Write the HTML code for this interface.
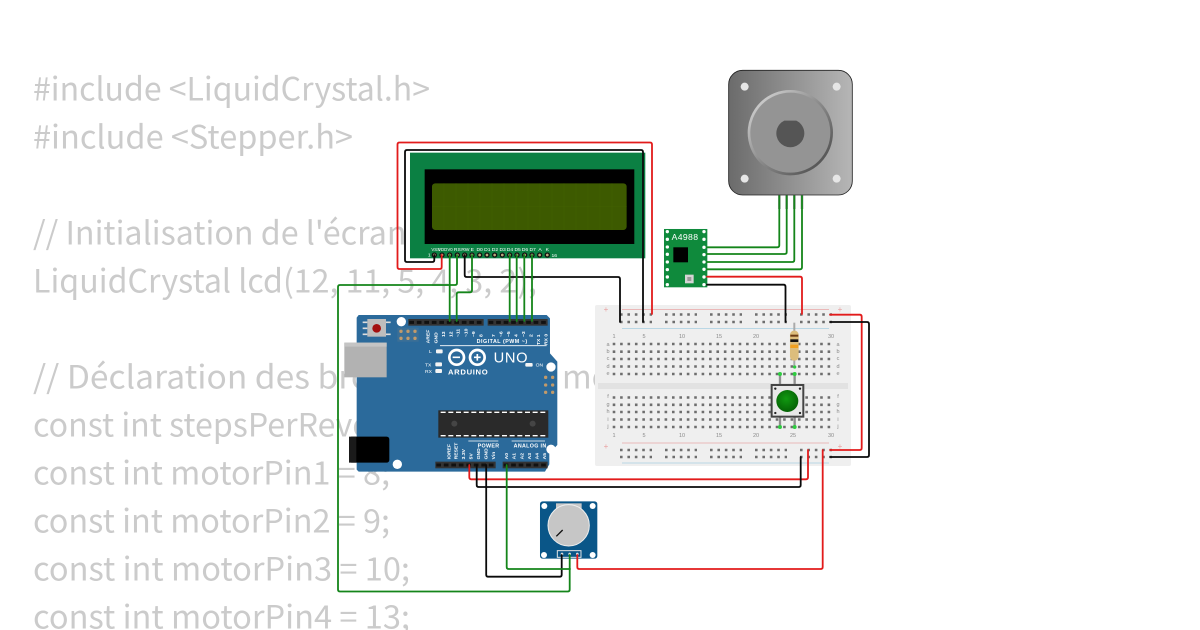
<!DOCTYPE html>
<html><head><meta charset="utf-8"><style>
html,body{margin:0;padding:0;background:#fff}
svg{display:block}
.c{font:32px "Noto Sans CJK JP","Liberation Sans",sans-serif;fill:#cbcbcb}
.w{fill:none;stroke-width:1.8;stroke-linejoin:round;stroke-linecap:round}
.r{stroke:#e21b1b}.k{stroke:#0a0a0a}.g{stroke:#14851a}
.t{font-family:"Liberation Sans",sans-serif;fill:#fff}
.bb{font:5.5px "Liberation Sans",sans-serif;fill:#8a8a8a}
.h{stroke:#6e6e6e;stroke-width:2.6;stroke-dasharray:2.6 4.81;fill:none}
</style></head><body>
<svg width="1200" height="630" viewBox="0 0 1200 630" xmlns="http://www.w3.org/2000/svg">
<defs>
<linearGradient id="mg" x1="0" x2="1" y1="0" y2="0"><stop offset="0" stop-color="#6b6b6b"/><stop offset="1" stop-color="#b6b6b6"/></linearGradient>
<linearGradient id="rg" x1="0" y1="0" x2="1" y2="1"><stop offset="0" stop-color="#e0e0e0"/><stop offset=".5" stop-color="#8a8a8a"/><stop offset="1" stop-color="#444"/></linearGradient>
<radialGradient id="bt" cx=".45" cy=".4" r=".6"><stop offset="0" stop-color="#119a11"/><stop offset="1" stop-color="#056205"/></radialGradient>
</defs>
<rect width="1200" height="630" fill="#fff"/>

<!-- code text -->
<text class="c" x="33" y="100.300" textLength="397" lengthAdjust="spacingAndGlyphs">#include &lt;LiquidCrystal.h&gt;</text>
<text class="c" x="33" y="148.300" textLength="320" lengthAdjust="spacingAndGlyphs">#include &lt;Stepper.h&gt;</text>
<text class="c" x="33" y="244.300" textLength="440" lengthAdjust="spacingAndGlyphs">// Initialisation de l'écran LCD</text>
<text class="c" x="33" y="292.300" textLength="504" lengthAdjust="spacingAndGlyphs">LiquidCrystal lcd(12, 11, 5, 4, 3, 2);</text>
<text class="c" x="33" y="388.300" textLength="410" lengthAdjust="spacingAndGlyphs">// Déclaration des broches</text>
<text class="c" x="562" y="388.300">moteur</text>
<text class="c" x="33" y="436.300" textLength="522" lengthAdjust="spacingAndGlyphs">const int stepsPerRevolution = 200;</text>
<text class="c" x="33" y="484.300" textLength="357" lengthAdjust="spacingAndGlyphs">const int motorPin1 = 8;</text>
<text class="c" x="33" y="532.300" textLength="357" lengthAdjust="spacingAndGlyphs">const int motorPin2 = 9;</text>
<text class="c" x="33" y="580.300" textLength="377" lengthAdjust="spacingAndGlyphs">const int motorPin3 = 10;</text>
<text class="c" x="33" y="628.300" textLength="377" lengthAdjust="spacingAndGlyphs">const int motorPin4 = 13;</text>

<!-- breadboard -->
<rect x="595" y="305" width="256" height="161" rx="2" fill="#efefef"/>
<rect x="598" y="383" width="250" height="6" fill="#e2e2e2"/>
<path d="M622 309.500H829M622 443H829" stroke="#e9a6a6" stroke-width=".8"/>
<path d="M622 328.500H829M622 463H829" stroke="#a9cfe2" stroke-width=".8"/>
<g class="h">
<path d="M612.700 344H831M612.700 351.700H831M612.700 359H831M612.700 366.500H831M612.700 374H831M612.700 397.500H831M612.700 404.800H831M612.700 412H831M612.700 419.500H831M612.700 427H831"/>
<path d="M620 314.500h32M665 314.500h32M710 314.500h32M755 314.500h32M800 314.500h32M620 322h32M665 322h32M710 322h32M755 322h32M800 322h32"/>
<path d="M620 450h32M665 450h32M710 450h32M755 450h32M800 450h32M620 457h32M665 457h32M710 457h32M755 457h32M800 457h32"/>
</g>
<g class="bb" text-anchor="middle">
<text x="614" y="338">1</text><text x="644" y="338">5</text><text x="682" y="338">10</text><text x="719" y="338">15</text><text x="756" y="338">20</text><text x="831" y="338">30</text>
<text x="614" y="437">1</text><text x="644" y="437">5</text><text x="682" y="437">10</text><text x="719" y="437">15</text><text x="756" y="437">20</text><text x="793" y="437">25</text><text x="831" y="437">30</text>
<text x="608" y="346">a</text><text x="608" y="353">b</text><text x="608" y="360">c</text><text x="608" y="368">d</text><text x="608" y="375">e</text><text x="608" y="398">f</text><text x="608" y="406">g</text><text x="608" y="413">h</text><text x="608" y="421">i</text><text x="608" y="428">j</text>
<text x="838" y="346">a</text><text x="838" y="353">b</text><text x="838" y="360">c</text><text x="838" y="368">d</text><text x="838" y="375">e</text><text x="838" y="398">f</text><text x="838" y="406">g</text><text x="838" y="413">h</text><text x="838" y="421">i</text><text x="838" y="428">j</text>
</g>
<g font-family="Liberation Sans" font-size="8" fill="#e9a0a0" text-anchor="middle"><text x="606" y="312">+</text><text x="840" y="312">+</text><text x="606" y="449">+</text><text x="840" y="449">+</text></g>

<!-- resistor + button in zoom coordinates -->
<g transform="translate(590 300) scale(.3333)">
<path d="M613 68V200" stroke="#aaa" stroke-width="6"/>
<rect x="600" y="92" width="26" height="90" rx="12" fill="#dcbd7c"/>
<rect x="601" y="104" width="24" height="6" fill="#6b3a12"/><rect x="601" y="118" width="24" height="8" fill="#111"/><rect x="601" y="134" width="24" height="10" fill="#f0a020"/>
<path d="M570 225V255M614 225V255M570 350V380M614 350V380" stroke="#8f8f8f" stroke-width="7"/>
<g fill="#2ecc40"><circle cx="614" cy="201" r="5"/><circle cx="570" cy="222" r="6"/><circle cx="614" cy="222" r="6"/><circle cx="570" cy="381" r="6"/><circle cx="614" cy="381" r="6"/></g>
<rect x="545" y="255" width="95" height="95" fill="#e8e8e8" stroke="#444" stroke-width="6"/>
<g fill="#222"><circle cx="556" cy="266" r="3.500"/><circle cx="630" cy="266" r="3.500"/><circle cx="556" cy="339" r="3.500"/><circle cx="630" cy="339" r="3.500"/></g>
<circle cx="592" cy="303" r="33" fill="url(#bt)"/>
</g>

<!-- LCD -->
<g transform="translate(340 130) scale(.3333)">
<rect x="210" y="68" width="706" height="317" fill="#0b8043"/>
<rect x="254" y="118" width="629" height="224" fill="#000"/>
<rect x="276" y="160" width="584" height="140" rx="10" fill="#3d5a00"/>
<path d="M312 160V300M348 160V300M384 160V300M420 160V300M456 160V300M492 160V300M528 160V300M564 160V300M600 160V300M636 160V300M672 160V300M708 160V300M744 160V300M780 160V300M816 160V300M276 230H860" stroke="#415f00" stroke-width="2"/>
<g fill="#b9a97a" stroke="#111" stroke-width="4">
<circle cx="283" cy="375" r="6"/><circle cx="306" cy="375" r="6"/><circle cx="329" cy="375" r="6"/><circle cx="352" cy="375" r="6"/><circle cx="374" cy="375" r="6"/><circle cx="396" cy="375" r="6"/><circle cx="419" cy="375" r="6"/><circle cx="441" cy="375" r="6"/><circle cx="464" cy="375" r="6"/><circle cx="487" cy="375" r="6"/><circle cx="509" cy="375" r="6"/><circle cx="531" cy="375" r="6"/><circle cx="554" cy="375" r="6"/><circle cx="576" cy="375" r="6"/><circle cx="599" cy="375" r="6"/><circle cx="622" cy="375" r="6"/>
</g>
<g class="t" font-size="15" text-anchor="middle">
<text x="287" y="363" font-size="13">VSS</text><text x="308" y="363" font-size="13">VDD</text><text x="330" y="363" font-size="13">V0</text><text x="352" y="363">RS</text><text x="376" y="363">RW</text><text x="397" y="363">E</text><text x="419" y="363">D0</text><text x="442" y="363">D1</text><text x="465" y="363">D2</text><text x="488" y="363">D3</text><text x="510" y="363">D4</text><text x="533" y="363">D5</text><text x="555" y="363">D6</text><text x="578" y="363">D7</text><text x="600" y="363">A</text><text x="622" y="363">K</text>
<text x="268" y="379">1</text><text x="643" y="381">16</text>
</g>
</g>

<!-- Arduino -->
<g transform="translate(340 305) scale(.3333)">
<path d="M50 38L56 30H620L630 40V145L652 170V420L628 445V478L615 500H56L50 494Z" fill="#2b6a9b"/>
<rect x="13" y="113" width="127" height="104" fill="#b2b2b2"/>
<path d="M13 113H140V125H13Z" fill="#c4c4c4"/>
<rect x="27" y="395" width="121" height="78" rx="8" fill="#000"/>
<rect x="27" y="395" width="22" height="78" fill="#1a1a1a"/>
<rect x="82" y="42" width="56" height="53" fill="#bdbdbd"/>
<path d="M68 52H82M68 70H82M68 88H82M138 52H152M138 88H152" stroke="#ddd" stroke-width="5"/>
<circle cx="110" cy="70" r="13" fill="#a30f0f"/>
<g fill="#fff"><circle cx="184" cy="50" r="14"/><circle cx="633" cy="186" r="14"/><circle cx="172" cy="478" r="14"/><circle cx="633" cy="433" r="14"/></g>
<rect x="205" y="42" width="226" height="20" fill="#333"/><rect x="443" y="42" width="180" height="20" fill="#333"/>
<rect x="286" y="470" width="181" height="20" fill="#333"/><rect x="488" y="470" width="135" height="20" fill="#333"/>
<path d="M208 52H430M446 52H622M289 480H466M491 480H622" stroke="#111" stroke-width="9" stroke-dasharray="14 8.500"/>
<rect x="172" y="68" width="64" height="42" fill="#3b6f96"/>
<g fill="#c29a6a"><circle cx="183" cy="79" r="5"/><circle cx="204" cy="79" r="5"/><circle cx="225" cy="79" r="5"/><circle cx="183" cy="100" r="5"/><circle cx="204" cy="100" r="5"/><circle cx="225" cy="100" r="5"/></g>
<g fill="#c29a6a"><circle cx="617" cy="217" r="5"/><circle cx="638" cy="217" r="5"/><circle cx="617" cy="240" r="5"/><circle cx="638" cy="240" r="5"/><circle cx="617" cy="262" r="5"/><circle cx="638" cy="262" r="5"/></g>
<rect x="295" y="316" width="330" height="82" fill="#2a2a2a"/>
<path d="M302 322H622M302 392H622" stroke="#fff" stroke-width="4" stroke-dasharray="15 8"/>
<circle cx="343" cy="356" r="9" fill="#454545"/><circle cx="578" cy="356" r="9" fill="#454545"/>
<path d="M300 122H620M385 408H475M515 408H615" stroke="#fff" stroke-width="2.500" fill="none"/>
<g fill="none" stroke="#fff" stroke-width="8"><circle cx="350" cy="157" r="22"/><circle cx="412" cy="157" r="22"/></g>
<path d="M338 157H360M402 157H422M412 147V167" stroke="#fff" stroke-width="5"/>
<text class="t" x="324" y="209" font-size="23" font-weight="bold" letter-spacing="2">ARDUINO</text>
<text class="t" x="461" y="172" font-size="44" letter-spacing="2">UNO</text>
<text class="t" x="410" y="114" font-size="16" font-weight="bold" letter-spacing="1.500">DIGITAL (PWM ~)</text>
<text class="t" x="267" y="144" font-size="15">L</text><text class="t" x="255" y="185" font-size="15">TX</text><text class="t" x="255" y="204" font-size="15">RX</text><text class="t" x="587" y="185" font-size="15">ON</text>
<g fill="#f4f4f4"><rect x="288" y="133" width="20" height="12" rx="3"/><rect x="286" y="172" width="20" height="12" rx="3"/><rect x="286" y="192" width="20" height="12" rx="3"/><rect x="556" y="174" width="22" height="11" rx="3"/></g>
<text class="t" x="413" y="428" font-size="16" font-weight="bold" letter-spacing="1">POWER</text>
<text class="t" x="521" y="428" font-size="16" font-weight="bold" letter-spacing="1">ANALOG IN</text>
<g class="t" font-size="15" font-weight="bold">
<text transform="translate(269 115) rotate(-90)">AREF</text><text transform="translate(293 115) rotate(-90)">GND</text><text transform="translate(315 96) rotate(-90)">13</text><text transform="translate(337 96) rotate(-90)">12</text><text transform="translate(359 96) rotate(-90)">~11</text><text transform="translate(383 96) rotate(-90)">~10</text><text transform="translate(405 96) rotate(-90)">~9</text><text transform="translate(427 96) rotate(-90)">8</text>
<text transform="translate(465 96) rotate(-90)">7</text><text transform="translate(487 96) rotate(-90)">~6</text><text transform="translate(510 96) rotate(-90)">~5</text><text transform="translate(533 96) rotate(-90)">4</text><text transform="translate(555 96) rotate(-90)">~3</text><text transform="translate(577 96) rotate(-90)">2</text><text transform="translate(600 120) rotate(-90)">TX 1</text><text transform="translate(622 120) rotate(-90)">RX 0</text>
<text transform="translate(331 463) rotate(-90)">IOREF</text><text transform="translate(353 463) rotate(-90)">RESET</text><text transform="translate(375 463) rotate(-90)">3.3V</text><text transform="translate(397 463) rotate(-90)">5V</text><text transform="translate(420 463) rotate(-90)">GND</text><text transform="translate(442 463) rotate(-90)">GND</text><text transform="translate(465 463) rotate(-90)">Vin</text>
<text transform="translate(504 463) rotate(-90)">A0</text><text transform="translate(527 463) rotate(-90)">A1</text><text transform="translate(550 463) rotate(-90)">A2</text><text transform="translate(573 463) rotate(-90)">A3</text><text transform="translate(595 463) rotate(-90)">A4</text><text transform="translate(618 463) rotate(-90)">A5</text>
</g>
</g>

<!-- motor + driver -->
<g transform="translate(650 60) scale(.3333)">
<path d="M388 400V447M410 400V447M433 400V447M456 400V447" stroke="#a5a5a5" stroke-width="8"/>
<rect x="236" y="31" width="371" height="374" rx="42" fill="url(#mg)" stroke="#222" stroke-width="2.500"/>
<g fill="#e6e6e6"><circle cx="284" cy="80" r="12"/><circle cx="560" cy="80" r="12"/><circle cx="284" cy="356" r="12"/><circle cx="560" cy="356" r="12"/></g>
<circle cx="421" cy="218" r="124" fill="#949494" stroke="url(#rg)" stroke-width="8"/>
<path d="M403 182H439A42 42 0 1 1 403 182Z" fill="#555"/>
<rect x="42" y="507" width="130" height="175" fill="#0f8a3c"/>
<g fill="#fff"><circle cx="52" cy="515" r="5"/><circle cx="52" cy="538" r="5"/><circle cx="52" cy="561" r="5"/><circle cx="52" cy="583" r="5"/><circle cx="52" cy="606" r="5"/><circle cx="52" cy="629" r="5"/><circle cx="52" cy="651" r="5"/><circle cx="52" cy="674" r="5"/><circle cx="162" cy="515" r="5"/><circle cx="162" cy="538" r="5"/><circle cx="162" cy="562" r="5"/><circle cx="162" cy="584" r="5"/><circle cx="162" cy="606" r="5"/><circle cx="162" cy="628" r="5"/><circle cx="162" cy="651" r="5"/><circle cx="162" cy="674" r="5"/></g>
<rect x="70" y="562" width="44" height="45" fill="#000"/>
<rect x="105" y="644" width="26" height="26" fill="#d5d5d5"/><rect x="112" y="651" width="12" height="12" fill="#999"/>
<text class="t" x="65" y="540" font-size="26" letter-spacing="1">A4988</text>
</g>

<!-- potentiometer -->
<g transform="translate(460 460) scale(.3333)">
<rect x="240" y="124" width="172" height="172" rx="8" fill="#0a5688"/>
<g fill="#fff"><circle cx="253" cy="138" r="9"/><circle cx="398" cy="138" r="9"/><circle cx="252" cy="285" r="9"/><circle cx="398" cy="285" r="9"/></g>
<rect x="288" y="130" width="77" height="20" fill="#c8c8c8"/>
<circle cx="326" cy="196" r="62" fill="#c6c6c6" stroke="#eee" stroke-width="3"/>
<path d="M289 229L308 210" stroke="#111" stroke-width="4"/>
<rect x="292" y="272" width="71" height="20" fill="#0a5688" stroke="#e5e5e5" stroke-width="3"/>
<g fill="#ddd"><circle cx="306" cy="282" r="4"/><circle cx="329" cy="282" r="4"/><circle cx="352" cy="282" r="4"/></g>
</g>

<!-- wires -->
<g class="w r">
<path d="M441.700 255V267q0 2-2 2H399.500q-2 0-2-2V144.500q0-2 2-2H650q2 0 2 2V314"/>
<path d="M469.300 465V477.300q0 2 2 2H806q2 0 2-2V450"/>
<path d="M577.300 555V567q0 2 2 2H820.700q2 0 2-2V450"/>
<path d="M707 276.700H800q2 0 2 2V314"/>
<path d="M830 314.700H859.700q2 0 2 2V448q0 2-2 2H830"/>
</g>
<g class="w k">
<path d="M434.300 255V260q0 2-2 2H407q-2 0-2-2V152q0-2 2-2H641q2 0 2 2V322"/>
<path d="M464.700 255V275q0 2 2 2H618q2 0 2 2V322"/>
<path d="M476.700 465V485q0 2 2 2H798.700q2 0 2-2V457"/>
<path d="M486.200 465V574.700q0 2 2 2H559.700q2 0 2-2V555"/>
<path d="M707 284.700H783.500q2 0 2 2V322"/>
<path d="M830 322H867q2 0 2 2V455q0 2-2 2H830"/>
</g>
<g class="w g">
<path d="M449.700 255V321"/>
<path d="M457 255V283q0 2-2 2H340q-2 0-2 2V589.500q0 2 2 2H567.700q2 0 2-2V555"/>
<path d="M472 255V290.300q0 2-2 2H458.700q-2 0-2 2V321"/>
<path d="M509.700 255V321M516.700 255V321M524.300 255V321M532 255V321"/>
<path d="M506.700 465V567q0 2 2 2H570"/>
<path d="M707 247.300H777.300q2 0 2-2V196M707 254H784.700q2 0 2-2V196M707 262H792.300q2 0 2-2V196M707 269.300H800q2 0 2-2V196"/>
</g>
</svg>
</body></html>
